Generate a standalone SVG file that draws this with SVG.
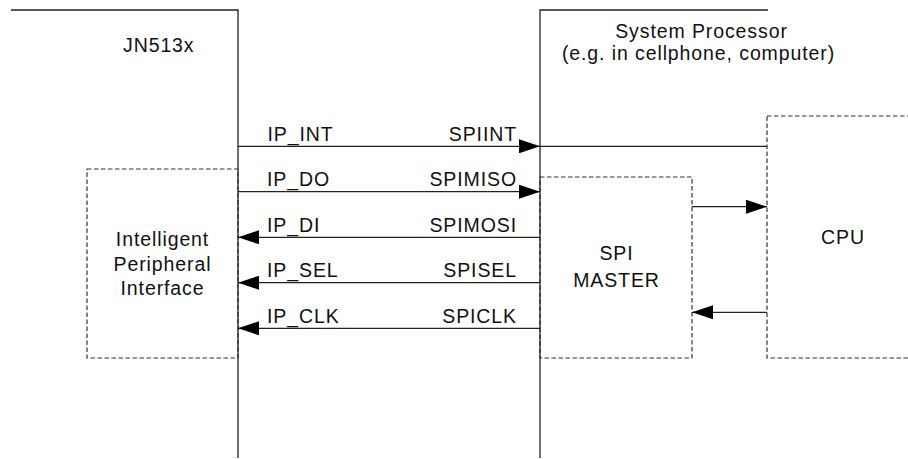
<svg xmlns="http://www.w3.org/2000/svg" width="908" height="459" viewBox="0 0 908 459">
<defs>
<style>
text{font-family:"Liberation Sans",Arial,sans-serif;font-size:19.5px;letter-spacing:0.9px;fill:#111}
.mid{text-anchor:middle}
.end{text-anchor:end}
.frame{fill:none;stroke:#222;stroke-width:1.3}
.dash{fill:none;stroke:#333;stroke-width:1.2;stroke-dasharray:4.5 2.5}
.wire{fill:none;stroke:#222;stroke-width:1.3}
</style>
<marker id="ah" markerUnits="userSpaceOnUse" markerWidth="22" markerHeight="14" viewBox="0 0 22 14" refX="21" refY="7" orient="auto">
<path d="M0,0 L21,7 L0,14 z" fill="#000"/>
</marker>
</defs>
<rect width="908" height="459" fill="#fff"/>
<g id="ipi">
<rect class="dash" x="87" y="169" width="151" height="189"/>
<text class="mid" x="162.5" y="246">Intelligent</text>
<text class="mid" x="162.5" y="270.5">Peripheral</text>
<text class="mid" x="162.5" y="295">Interface</text>
</g>
<g id="spimaster">
<rect class="dash" x="540" y="177" width="152" height="181"/>
<text class="mid" x="616.5" y="260">SPI</text>
<text class="mid" x="616.5" y="287">MASTER</text>
</g>
<g id="cpu">
<rect class="dash" x="767" y="116" width="170" height="242"/>
<text class="mid" x="843" y="244">CPU</text>
</g>
<g id="jn513x">
<polyline class="frame" points="11,10 238,10 238,458"/>
<text x="123" y="52">JN513x</text>
</g>
<g id="sysproc">
<polyline class="frame" points="540,458 540,10 768,10"/>
<text class="mid" x="701.5" y="38">System Processor</text>
<text class="mid" x="698.5" y="60">(e.g. in cellphone, computer)</text>
</g>
<g id="connectors">
<line class="wire" x1="238" y1="146.3" x2="540" y2="146.3" marker-end="url(#ah)"/>
<line class="wire" x1="540" y1="146.3" x2="767" y2="146.3"/>
<line class="wire" x1="238" y1="191.7" x2="540" y2="191.7" marker-end="url(#ah)"/>
<line class="wire" x1="540" y1="237.3" x2="238" y2="237.3" marker-end="url(#ah)"/>
<line class="wire" x1="540" y1="282.7" x2="238" y2="282.7" marker-end="url(#ah)"/>
<line class="wire" x1="540" y1="328.3" x2="238" y2="328.3" marker-end="url(#ah)"/>
<line class="wire" x1="692" y1="206.7" x2="767" y2="206.7" marker-end="url(#ah)"/>
<line class="wire" x1="767" y1="312.3" x2="692" y2="312.3" marker-end="url(#ah)"/>
<text x="267.5" y="141">IP_INT</text>
<text class="end" x="517" y="141">SPIINT</text>
<text x="267" y="186">IP_DO</text>
<text class="end" x="517" y="186">SPIMISO</text>
<text x="267" y="231.5">IP_DI</text>
<text class="end" x="517" y="231.5">SPIMOSI</text>
<text x="267" y="277">IP_SEL</text>
<text class="end" x="517" y="277">SPISEL</text>
<text x="267" y="322.5">IP_CLK</text>
<text class="end" x="517" y="322.5">SPICLK</text>
</g>
</svg>
